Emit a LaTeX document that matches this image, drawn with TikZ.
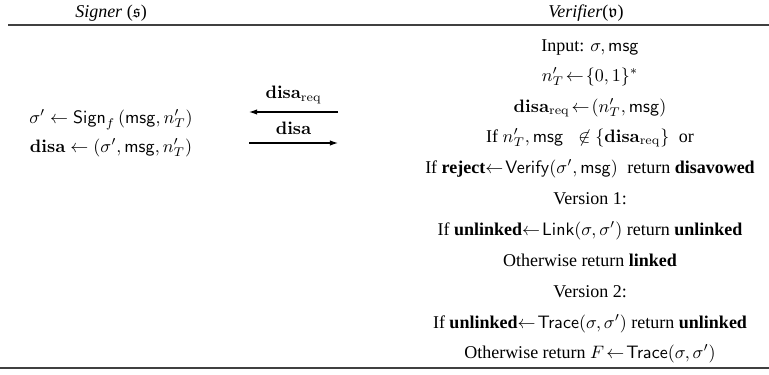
\documentclass[tikz,border=0pt]{standalone}
\usepackage{amsmath}
\usepackage{amssymb}
\usepackage[no-math]{fontspec}
\setmainfont{Liberation Serif}
\usetikzlibrary{arrows.meta}
\tikzset{
  row/.style={anchor=base, inner sep=0pt},
  msgarrow/.style={-{Latex[length=4.5pt,width=3pt]}, semithick},
  tabrule/.style={line width=0.9pt, black!75}
}
\newcommand{\disa}{\mathbf{disa}}
\newcommand{\dreq}{\mathbf{disa}_{\mathrm{req}}}
\newcommand{\from}{\!\leftarrow\!}

\begin{document}
\begin{tikzpicture}[x=0.5556pt,y=-0.5556pt]
\useasboundingbox (0,0) rectangle (769,374);
\node[row] (signer) at (111,17) {\textit{Signer} ($\mathfrak{s}$)};
\node[row] (verifier) at (586,17) {\textit{Verifier}($\mathfrak{v}$)};
\draw[tabrule] (8,25) -- (769,25);
% signer side
\node[row] (sign) at (111,123) {$\sigma'\leftarrow\mathsf{Sign}_f\,(\mathsf{msg}, n'_T)$};
\node[row] (disa) at (111,152) {$\disa\leftarrow(\sigma', \mathsf{msg}, n'_T)$};
% messages
\coordinate (reqR) at (338,112);
\coordinate (reqL) at (249,112);
\coordinate (disaL) at (249,143);
\coordinate (disaR) at (338,143);
\draw[msgarrow] (reqR) -- (reqL) node[midway,above=1pt] {$\dreq$};
\draw[msgarrow] (disaL) -- (disaR) node[midway,above=1pt] {$\disa$};
% verifier side
\node[row] (input) at (590,51) {Input: $\sigma, \mathsf{msg}$};
\node[row] (nonce) at (590,81) {$n'_T\from\{0,1\}^*$};
\node[row] (req) at (590,112) {$\dreq\from(n'_T, \mathsf{msg})$};
\node[row] (check) at (590,142) {If $n'_T, \mathsf{msg}\;\;\not\in\{\dreq\}$\; or};
\node[row] (verify) at (590,173) {If \textbf{reject}$\leftarrow\!\mathsf{Verify}(\sigma', \mathsf{msg})$\; return \textbf{disavowed}};
\node[row] (vone) at (590,204) {Version 1:};
\node[row] (link) at (590,235) {If \textbf{unlinked}$\leftarrow\!\mathsf{Link}(\sigma, \sigma')$ return \textbf{unlinked}};
\node[row] (linked) at (590,266) {Otherwise return \textbf{linked}};
\node[row] (vtwo) at (590,297) {Version 2:};
\node[row] (trace) at (590,328) {If \textbf{unlinked}$\leftarrow\!\mathsf{Trace}(\sigma, \sigma')$ return \textbf{unlinked}};
\node[row] (fail) at (590,358) {Otherwise return $F\from\mathsf{Trace}(\sigma, \sigma')$};
\draw[tabrule] (0,368) -- (769,368);
\end{tikzpicture}
\end{document}
